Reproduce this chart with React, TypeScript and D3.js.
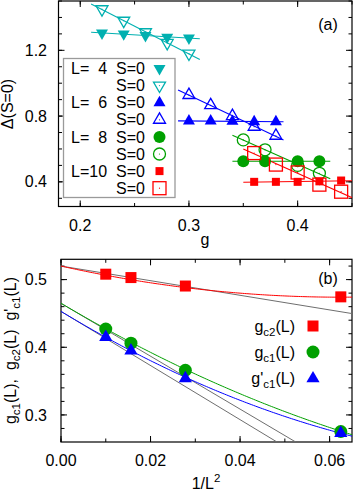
import React from 'react';
import * as d3 from 'd3';

// ---------- Panel (a) data ----------
const gL4 = [0.22, 0.24, 0.26, 0.28, 0.30];
const dL4Filled = [1.305, 1.30, 1.29, 1.28, 1.275];
const dL4Open = [1.45, 1.38, 1.31, 1.245, 1.18];
const gL6 = [0.30, 0.32, 0.34, 0.36, 0.38];
const dL6Filled = [0.77, 0.77, 0.768, 0.766, 0.766];
const dL6Open = [0.928, 0.866, 0.80, 0.735, 0.68];
const gL8 = [0.35, 0.37, 0.40, 0.42];
const dL8Filled = [0.525, 0.525, 0.525, 0.525];
const dL8Open = [0.655, 0.595, 0.50, 0.452];
const gL10 = [0.36, 0.38, 0.40, 0.42, 0.44];
const dL10Filled = [0.40, 0.40, 0.40, 0.403, 0.408];
const dL10Open = [0.575, 0.505, 0.457, 0.383, 0.34];
const fitRangeL4 = [0.21, 0.31];
const fitRangeL6 = [0.29, 0.387];
const fitRangeL8 = [0.34, 0.43];
const fitRangeL10 = [0.35, 0.46];
const legendLabels = ['L=  4', 'L=  6', 'L=  8', 'L=10'];
const xTicksA = [0.2, 0.3, 0.4];
const yTicksA = [0.4, 0.8, 1.2];

// ---------- Panel (b) data ----------
const invL2 = [0.01, 0.015625, 0.027778, 0.0625];
const gc2 = [0.508, 0.503, 0.4905, 0.4745];
const gc1 = [0.427, 0.406, 0.366, 0.2755];
const gc1p = [0.415, 0.395, 0.354, 0.273];
// quadratic fits a + b x + c x^2
const fitGc2 = [0.520, -1.472, 11.78];
const fitGc1 = [0.465, -3.91, 14.18];
const fitGc1p = [0.453, -4.0, 17.9];
// linear extrapolations (grey) a + b x
const linGc2 = [0.520, -1.08];
const linGc1 = [0.465, -3.91];
const linGc1p = [0.453, -4.0];
const xTicksB = [0.0, 0.02, 0.04, 0.06];
const yTicksB = [0.3, 0.4, 0.5];

const CYAN = '#00B0B0';
const BLUE = '#0000FF';
const GREEN = '#00A000';
const RED = '#FF0000';
const FONT = '"Liberation Sans", Arial, Helvetica, sans-serif';
const FS = 16;
const SUB = 11.5;

// scales
const xA = d3.scaleLinear().domain([0.18, 0.45]).range([58.5, 352]);
const yA = d3.scaleLinear().domain([0.25, 1.5]).range([206.5, 1]);
const xB = d3.scaleLinear().domain([0, 0.065]).range([61, 352]);
const yB = d3.scaleLinear().domain([0.26, 0.53]).range([442, 259.3]);

type MarkerKind = 'triDownFilled' | 'triDownOpen' | 'triUpFilled' | 'triUpOpen' | 'circFilled' | 'circOpen' | 'sqFilled' | 'sqOpen';

function Marker({ kind, x, y, color, s = 1 }: { kind: MarkerKind; x: number; y: number; color: string; s?: number }) {
  const sw = 1.3;
  const triPath = (size: number, down: boolean) => {
    const h = (size * Math.sqrt(3)) / 2;
    const sign = down ? -1 : 1;
    const p1 = [0, (-2 * h) / 3 * sign];
    const p2 = [-size / 2, (h / 3) * sign];
    const p3 = [size / 2, (h / 3) * sign];
    return `M${p1[0]},${p1[1]}L${p2[0]},${p2[1]}L${p3[0]},${p3[1]}Z`;
  };
  const dot = <circle r={0.6} fill={color} />;
  let el: React.ReactNode = null;
  switch (kind) {
    case 'triDownFilled':
      el = <path d={triPath(12 * s, true)} fill={color} />;
      break;
    case 'triDownOpen':
      el = <><path d={triPath(12 * s, true)} fill="none" stroke={color} strokeWidth={sw} />{dot}</>;
      break;
    case 'triUpFilled':
      el = <path d={triPath(12 * s, false)} fill={color} />;
      break;
    case 'triUpOpen':
      el = <><path d={triPath(12 * s, false)} fill="none" stroke={color} strokeWidth={sw} />{dot}</>;
      break;
    case 'circFilled':
      el = <circle r={6 * s} fill={color} />;
      break;
    case 'circOpen':
      el = <><circle r={6 * s} fill="none" stroke={color} strokeWidth={sw} />{dot}</>;
      break;
    case 'sqFilled':
      el = <rect x={-4 * s} y={-4 * s} width={8 * s} height={8 * s} fill={color} />;
      break;
    case 'sqOpen':
      el = <><rect x={-6.5 * s} y={-6.5 * s} width={13 * s} height={13 * s} fill="none" stroke={color} strokeWidth={sw} />{dot}</>;
      break;
  }
  return <g transform={`translate(${x},${y})`}>{el}</g>;
}

function linFit(xs: number[], ys: number[]) {
  const mx = d3.mean(xs)!;
  const my = d3.mean(ys)!;
  let num = 0, den = 0;
  xs.forEach((x, i) => { num += (x - mx) * (ys[i] - my); den += (x - mx) * (x - mx); });
  const b = num / den;
  return [my - b * mx, b];
}

function Axes({ x, y, xMajor, xMinor, yMajor, yMinor, xFmt, yFmt, tickLabelY, yLabelX }: any) {
  const [x0, x1] = x.range();
  const [y0, y1] = y.range(); // y0 bottom, y1 top
  const els: React.ReactNode[] = [];
  const maj = 6, mnr = 3.5;
  xMinor.forEach((t: number, i: number) => {
    const px = x(t);
    els.push(<line key={`xm${i}`} x1={px} x2={px} y1={y0} y2={y0 - mnr} />);
    els.push(<line key={`xmt${i}`} x1={px} x2={px} y1={y1} y2={y1 + mnr} />);
  });
  xMajor.forEach((t: number, i: number) => {
    const px = x(t);
    els.push(<line key={`xM${i}`} x1={px} x2={px} y1={y0} y2={y0 - maj} />);
    els.push(<line key={`xMt${i}`} x1={px} x2={px} y1={y1} y2={y1 + maj} />);
  });
  yMinor.forEach((t: number, i: number) => {
    const py = y(t);
    els.push(<line key={`ym${i}`} x1={x0} x2={x0 + mnr} y1={py} y2={py} />);
    els.push(<line key={`ymr${i}`} x1={x1} x2={x1 - mnr} y1={py} y2={py} />);
  });
  yMajor.forEach((t: number, i: number) => {
    const py = y(t);
    els.push(<line key={`yM${i}`} x1={x0} x2={x0 + maj} y1={py} y2={py} />);
    els.push(<line key={`yMr${i}`} x1={x1} x2={x1 - maj} y1={py} y2={py} />);
  });
  return (
    <g>
      <g stroke="#000" strokeWidth={1}>{els}</g>
      <rect x={x0} y={y1} width={x1 - x0} height={y0 - y1} fill="none" stroke="#000" strokeWidth={1.2} />
      <g fontFamily={FONT} fontSize={FS} fill="#000">
        {xMajor.map((t: number, i: number) => (
          <text key={`xl${i}`} x={x(t)} y={tickLabelY} textAnchor="middle">{xFmt(t)}</text>
        ))}
        {yMajor.map((t: number, i: number) => (
          <text key={`yl${i}`} x={yLabelX} y={y(t) + 5.6} textAnchor="end">{yFmt(t)}</text>
        ))}
      </g>
    </g>
  );
}

const range = (a: number, b: number, step: number) => d3.range(Math.round((b - a) / step) + 1).map(i => +(a + i * step).toFixed(4));

export default function App() {
  const seriesA = [
    { g: gL4, d: dL4Filled, kind: 'triDownFilled' as MarkerKind, color: CYAN, rangeG: fitRangeL4 },
    { g: gL4, d: dL4Open, kind: 'triDownOpen' as MarkerKind, color: CYAN, rangeG: fitRangeL4 },
    { g: gL6, d: dL6Filled, kind: 'triUpFilled' as MarkerKind, color: BLUE, rangeG: fitRangeL6 },
    { g: gL6, d: dL6Open, kind: 'triUpOpen' as MarkerKind, color: BLUE, rangeG: fitRangeL6 },
    { g: gL8, d: dL8Filled, kind: 'circFilled' as MarkerKind, color: GREEN, rangeG: fitRangeL8 },
    { g: gL8, d: dL8Open, kind: 'circOpen' as MarkerKind, color: GREEN, rangeG: fitRangeL8 },
    { g: gL10, d: dL10Filled, kind: 'sqFilled' as MarkerKind, color: RED, rangeG: fitRangeL10 },
    { g: gL10, d: dL10Open, kind: 'sqOpen' as MarkerKind, color: RED, rangeG: fitRangeL10 },
  ];

  const quad = (c: number[]) => (x: number) => c[0] + c[1] * x + (c[2] || 0) * x * x;
  const xs = d3.range(0, 0.0651, 0.0005);
  const lineB = d3.line<number>().x(v => xB(v));
  const curvePath = (c: number[]) => lineB.y(v => yB(quad(c)(v)))(xs) || '';

  const legendRowsY = d3.range(8).map(i => 68.5 + i * 17.1);

  return (
    <svg width={354} height={491} style={{ position: 'absolute', left: 0, top: 0 }} fontFamily={FONT}>
      <defs>
        <clipPath id="clipA"><rect x={58.5} y={1} width={352 - 58.5} height={205.5} /></clipPath>
        <clipPath id="clipB"><rect x={61} y={259.3} width={352 - 61} height={442 - 259.3} /></clipPath>
      </defs>
      {/* ---------------- Panel (a) ---------------- */}
      <Axes x={xA} y={yA}
        xMajor={xTicksA} xMinor={range(0.2, 0.45, 0.05)}
        yMajor={yTicksA} yMinor={range(0.3, 1.5, 0.1)}
        xFmt={(t: number) => t.toFixed(1)} yFmt={(t: number) => t.toFixed(1)}
        tickLabelY={230.5} yLabelX={47} />
      <text transform="translate(13,104) rotate(-90)" textAnchor="middle" fontSize={FS}>Δ(S=0)</text>
      <text x={205} y={244.5} textAnchor="middle" fontSize={FS}>g</text>
      <text x={328} y={29.5} textAnchor="middle" fontSize={FS}>(a)</text>

      {/* legend box */}
      <rect x={63.5} y={58.5} width={111.5} height={139} fill="#fff" stroke="#9a9a9a" strokeWidth={1.3} />

      <g clipPath="url(#clipA)">
        {seriesA.map((s, i) => {
          const [a, b] = linFit(s.g, s.d);
          return <line key={`fit${i}`} x1={xA(s.rangeG[0])} y1={yA(a + b * s.rangeG[0])} x2={xA(s.rangeG[1])} y2={yA(a + b * s.rangeG[1])} stroke={s.color} strokeWidth={1.1} />;
        })}
        {seriesA.map((s, i) => s.g.map((g, j) => (
          <Marker key={`m${i}-${j}`} kind={s.kind} x={xA(g)} y={yA(s.d[j])} color={s.color} />
        )))}
      </g>

      {/* legend contents */}
      <g fontSize={FS}>
        {seriesA.map((s, i) => (
          <g key={`lg${i}`}>
            {i % 2 === 0 && <text x={71} y={legendRowsY[i] + 5.6} style={{ whiteSpace: 'pre' }}>{legendLabels[i / 2]}</text>}
            <text x={145} y={legendRowsY[i] + 5.6} textAnchor="end">S=0</text>
            <Marker kind={s.kind} x={159.5} y={legendRowsY[i]} color={s.color} />
          </g>
        ))}
      </g>

      {/* ---------------- Panel (b) ---------------- */}
      <Axes x={xB} y={yB}
        xMajor={xTicksB} xMinor={range(0, 0.06, 0.01)}
        yMajor={yTicksB} yMinor={range(0.28, 0.52, 0.02)}
        xFmt={(t: number) => t.toFixed(2)} yFmt={(t: number) => t.toFixed(1)}
        tickLabelY={466} yLabelX={47} />
      <text x={328} y={283.5} textAnchor="middle" fontSize={FS}>(b)</text>
      <text x={206} y={489} textAnchor="middle" fontSize={FS}>1/L<tspan fontSize={SUB} dy={-7}>2</tspan></text>
      <text transform="translate(16,350.5) rotate(-90)" textAnchor="middle" fontSize={FS} style={{ whiteSpace: 'pre' }}>
        g<tspan fontSize={SUB} dy={4}>c1</tspan><tspan dy={-4}>(L),  g</tspan><tspan fontSize={SUB} dy={4}>c2</tspan><tspan dy={-4}>(L)  g'</tspan><tspan fontSize={SUB} dy={4}>c1</tspan><tspan dy={-4}>(L)</tspan>
      </text>

      <g clipPath="url(#clipB)" fill="none">
        {[linGc2, linGc1, linGc1p].map((c, i) => (
          <line key={`gl${i}`} x1={xB(0)} y1={yB(c[0])} x2={xB(0.065)} y2={yB(c[0] + c[1] * 0.065)} stroke="#6e6e6e" strokeWidth={1} />
        ))}
        <path d={curvePath(fitGc2)} stroke={RED} strokeWidth={1} />
        <path d={curvePath(fitGc1)} stroke={GREEN} strokeWidth={1} />
        <path d={curvePath(fitGc1p)} stroke={BLUE} strokeWidth={1} />
      </g>
      <g>
        {invL2.map((v, i) => <rect key={`r${i}`} x={xB(v) - 5.5} y={yB(gc2[i]) - 5.5} width={11} height={11} fill={RED} />)}
        {invL2.map((v, i) => <circle key={`c${i}`} cx={xB(v)} cy={yB(gc1[i])} r={6.5} fill={GREEN} />)}
        {invL2.map((v, i) => <Marker key={`t${i}`} kind="triUpFilled" x={xB(v)} y={yB(gc1p[i])} color={BLUE} s={1.1} />)}
      </g>

      {/* legend (b) */}
      <g fontSize={FS}>
        <text x={295} y={331.5} textAnchor="end">g<tspan fontSize={SUB} dy={4}>c2</tspan><tspan dy={-4}>(L)</tspan></text>
        <rect x={313 - 5.5} y={326 - 5.5} width={11} height={11} fill={RED} />
        <text x={295} y={357.5} textAnchor="end">g<tspan fontSize={SUB} dy={4}>c1</tspan><tspan dy={-4}>(L)</tspan></text>
        <circle cx={313} cy={352} r={6.5} fill={GREEN} />
        <text x={295} y={383.5} textAnchor="end">g'<tspan fontSize={SUB} dy={4}>c1</tspan><tspan dy={-4}>(L)</tspan></text>
        <Marker kind="triUpFilled" x={313} y={378.5} color={BLUE} s={1.1} />
      </g>
    </svg>
  );
}
